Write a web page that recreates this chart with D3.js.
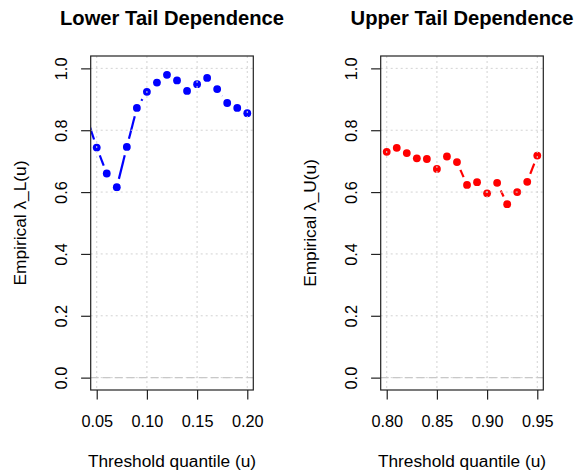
<!DOCTYPE html>
<html>
<head>
<meta charset="utf-8">
<script src="https://cdn.jsdelivr.net/npm/d3@7"></script>
<style>
    body { margin: 0; background: #fff; }
    svg { display: block; width: 576px; height: 476px; }
    text { font-family: "Liberation Sans", Arial, Helvetica, sans-serif; fill: #000; }
</style>
</head>
<body>
<svg width="576" height="476"></svg>
<script>
// thresholds and empirical tail dependence estimates
const lowerU = [0.04, 0.05, 0.06, 0.07, 0.08, 0.09, 0.10, 0.11, 0.12, 0.13, 0.14, 0.15, 0.16, 0.17, 0.18, 0.19, 0.20];
const lowerLambda = [0.842, 0.744, 0.660, 0.616, 0.746, 0.872, 0.924, 0.954, 0.979, 0.961, 0.927, 0.949, 0.969, 0.933, 0.888, 0.872, 0.855];

const upperU = [0.80, 0.81, 0.82, 0.83, 0.84, 0.85, 0.86, 0.87, 0.88, 0.89, 0.90, 0.91, 0.92, 0.93, 0.94, 0.95];
const upperLambda = [0.730, 0.743, 0.726, 0.709, 0.707, 0.675, 0.715, 0.697, 0.623, 0.632, 0.596, 0.630, 0.561, 0.600, 0.633, 0.718];

const lowerXTicks = [0.05, 0.10, 0.15, 0.20];
const upperXTicks = [0.80, 0.85, 0.90, 0.95];
const yTicks = [0.0, 0.2, 0.4, 0.6, 0.8, 1.0];

document.addEventListener("DOMContentLoaded", function() {
    const svg = d3.select("svg");

    const top = 56, bottom = 390;
    const y = d3.scaleLinear().domain([-0.04, 1.04]).range([bottom, top]);

    function drawPanel(opts) {
        const x = d3.scaleLinear().domain(opts.xlim).range([opts.left, opts.right]);
        const g = svg.append("g");
        const cx = (opts.left + opts.right) / 2;

        g.append("clipPath").attr("id", opts.id)
            .append("rect")
            .attr("x", opts.left).attr("y", top)
            .attr("width", opts.right - opts.left).attr("height", bottom - top);

        const plot = g.append("g").attr("clip-path", `url(#${opts.id})`);

        // type = "b": dashed segments with a gap round each point
        const pts = opts.u.map((u, i) => [x(u), y(opts.lambda[i])]);
        const gap = 8.5;
        const segs = [];
        for (let i = 1; i < pts.length; i++) {
            const [x0, y0] = pts[i - 1], [x1, y1] = pts[i];
            const len = Math.hypot(x1 - x0, y1 - y0);
            if (len <= 2 * gap) continue;
            const f = gap / len;
            segs.push([x0 + f * (x1 - x0), y0 + f * (y1 - y0), x1 - f * (x1 - x0), y1 - f * (y1 - y0)]);
        }
        plot.selectAll("line.seg")
            .data(segs)
            .enter().append("line")
            .attr("class", "seg")
            .attr("x1", d => d[0]).attr("y1", d => d[1])
            .attr("x2", d => d[2]).attr("y2", d => d[3])
            .attr("stroke", opts.color)
            .attr("stroke-width", 2.2)
            .attr("stroke-dasharray", "25,9");

        plot.selectAll("circle")
            .data(pts)
            .enter().append("circle")
            .attr("cx", d => d[0]).attr("cy", d => d[1])
            .attr("r", 3.9)
            .attr("fill", opts.color);

        // grid
        plot.selectAll("line.vgrid")
            .data(opts.xTicks)
            .enter().append("line")
            .attr("x1", d => x(d)).attr("x2", d => x(d))
            .attr("y1", top).attr("y2", bottom)
            .attr("stroke", "#d3d3d3")
            .attr("stroke-dasharray", "2,3");
        plot.selectAll("line.hgrid")
            .data(yTicks)
            .enter().append("line")
            .attr("x1", opts.left).attr("x2", opts.right)
            .attr("y1", d => y(d)).attr("y2", d => y(d))
            .attr("stroke", "#d3d3d3")
            .attr("stroke-dasharray", "2,3");

        // abline(h = 0)
        plot.append("line")
            .attr("x1", opts.left).attr("x2", opts.right)
            .attr("y1", y(0)).attr("y2", y(0))
            .attr("stroke", "#c8c8c8")
            .attr("stroke-width", 1.2)
            .attr("stroke-dasharray", "8,4");

        // box
        g.append("rect")
            .attr("x", opts.left).attr("y", top)
            .attr("width", opts.right - opts.left).attr("height", bottom - top)
            .attr("fill", "none")
            .attr("stroke", "#222")
            .attr("stroke-width", 1.2);

        // x axis
        const xAxis = g.append("g").attr("transform", `translate(0,${bottom})`)
            .call(d3.axisBottom(x).tickValues(opts.xTicks).tickFormat(d3.format(".2f")).tickSize(9.6));
        xAxis.select(".domain").remove();
        xAxis.selectAll("line").attr("stroke", "#222").attr("stroke-width", 1.2);
        xAxis.selectAll("text")
            .attr("font-size", 16.3)
            .attr("dy", null)
            .attr("y", 37)
            .style("font-family", "Liberation Sans, Arial, sans-serif")
            .attr("fill", "#000");

        // y axis
        const yAxis = g.append("g").attr("transform", `translate(${opts.left},0)`)
            .call(d3.axisLeft(y).tickValues(yTicks).tickFormat(d3.format(".1f")).tickSize(9.6));
        yAxis.select(".domain").remove();
        yAxis.selectAll("line").attr("stroke", "#222").attr("stroke-width", 1.2);
        yAxis.selectAll("text")
            .attr("font-size", 16.3)
            .attr("x", null).attr("dy", null)
            .attr("text-anchor", "middle")
            .attr("transform", "translate(-23.7,0) rotate(-90)")
            .style("font-family", "Liberation Sans, Arial, sans-serif")
            .attr("fill", "#000");

        // titles
        g.append("text")
            .attr("x", cx).attr("y", 25)
            .attr("text-anchor", "middle")
            .attr("font-size", 20.2)
            .attr("font-weight", "bold")
            .text(opts.title);
        g.append("text")
            .attr("x", cx).attr("y", 467)
            .attr("text-anchor", "middle")
            .attr("font-size", 17.3)
            .text("Threshold quantile (u)");
        g.append("text")
            .attr("transform", `translate(${opts.left - 64.5},${(top + bottom) / 2}) rotate(-90)`)
            .attr("text-anchor", "middle")
            .attr("font-size", 17.3)
            .text(opts.ylab);
    }

    drawPanel({
        id: "clipL", left: 90.7, right: 253.3, xlim: [0.044, 0.206],
        u: lowerU, lambda: lowerLambda, xTicks: lowerXTicks, color: "#0000ff",
        title: "Lower Tail Dependence", ylab: "Empirical λ_L(u)"
    });
    drawPanel({
        id: "clipU", left: 380.7, right: 543.3, xlim: [0.794, 0.956],
        u: upperU, lambda: upperLambda, xTicks: upperXTicks, color: "#ff0000",
        title: "Upper Tail Dependence", ylab: "Empirical λ_U(u)"
    });
});
</script>
</body>
</html>
